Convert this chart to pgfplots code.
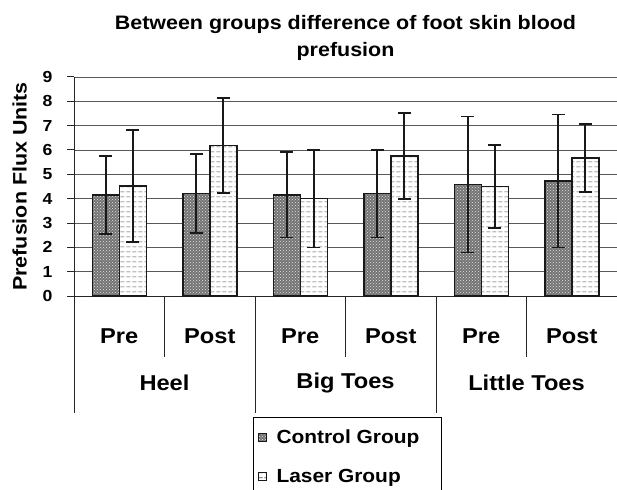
\documentclass[border=0pt]{standalone}
\usepackage{pgfplots}
\pgfplotsset{compat=1.18}
\usepackage{fontspec}
\setmainfont{Liberation Sans}[FakeStretch=1.1]
\usetikzlibrary{patterns,patterns.meta}
\pgfdeclarepatternformonly{wave}{\pgfpoint{0pt}{0pt}}{\pgfpoint{6pt}{5pt}}{\pgfpoint{6pt}{5pt}}{%
  \pgfsetlinewidth{0.75pt}%
  \pgfpathmoveto{\pgfpoint{0.5pt}{2.5pt}}%
  \pgfpathcurveto{\pgfpoint{1.8pt}{4.5pt}}{\pgfpoint{3.6pt}{0.5pt}}{\pgfpoint{5.1pt}{2.5pt}}%
  \pgfusepath{stroke}}
\begin{document}
\begin{tikzpicture}
\begin{axis}[
  at={(0,0)}, anchor=south west,
  scale only axis, width=543pt, height=219pt,
  xmin=0, xmax=6, ymin=0, ymax=9,
  axis x line*=bottom, axis y line*=left,
  axis line style={black!85, line width=1pt},
  ytick={0,...,9},
  ymajorgrids, grid style={black!65, line width=0.9pt},
  tick align=outside, major tick length=7pt,
  ytick style={black!85, line width=1pt},
  xtick={0.5,1.5,2.5,3.5,4.5,5.5},
  xticklabels={Pre,Post,Pre,Post,Pre,Post},
  xtick style={draw=none},
  xticklabel style={anchor=center, yshift=-33pt, font=\bfseries\fontsize{21.5}{21.5}\selectfont},
  yticklabel style={font=\bfseries\fontsize{16}{16}\selectfont, xshift=-11pt},
  /pgf/number format/assume math mode=true,
  ylabel={Prefusion Flux Units},
  ylabel style={font=\bfseries\fontsize{19.5}{19.5}\selectfont, yshift=9pt},
  title={Between groups difference of foot skin blood\\prefusion},
  title style={font=\bfseries\fontsize{19.5}{27}\selectfont, align=center, yshift=7pt},
  ybar, bar width=27pt,
  clip=false,
  legend style={at={(axis description cs:0.3297,-0.5525)}, anchor=north west,
    draw=black, line width=1pt, font=\bfseries\fontsize{19}{19}\selectfont,
    row sep=20pt, inner xsep=4pt, inner ysep=10pt, legend cell align=left,
    nodes={inner xsep=4pt}},
  legend image code/.code={\draw[#1, line width=0.5pt] (0pt,-4pt) rectangle (8pt,4pt); \node[inner sep=0pt, minimum size=0pt, draw=none, fill=none] at (14pt,0pt) {};},
]
\addplot[draw=black!90, line width=1.5pt, fill=black!55,
  postaction={pattern=crosshatch dots, pattern color=white!90!black},
  bar shift=-13.5pt,
  error bars/.cd, y dir=both, y explicit,
  error bar style={black!90, line width=1.6pt},
  error mark options={rotate=90, mark size=6.5pt, line width=1.6pt, black!90}]
coordinates {
(0.5,4.16) +- (0,1.60)
(1.5,4.22) +- (0,1.62)
(2.5,4.16) +- (0,1.75)
(3.5,4.21) +- (0,1.80)
(4.5,4.58) +- (0,2.80)
(5.5,4.73) +- (0,2.73)
};
\addlegendentry{Control Group\hspace*{14pt}}
\addplot[draw=black!90, line width=1.5pt, fill=white,
  postaction={pattern=wave, pattern color=black!70},
  bar shift=13.5pt,
  error bars/.cd, y dir=both, y explicit,
  error bar style={black!90, line width=1.6pt},
  error mark options={rotate=90, mark size=6.5pt, line width=1.6pt, black!90}]
coordinates {
(0.5,4.53) +- (0,2.30)
(1.5,6.19) +- (0,1.95)
(2.5,4.00) +- (0,2.00)
(3.5,5.76) +- (0,1.77)
(4.5,4.50) +- (0,1.70)
(5.5,5.68) +- (0,1.40)
};
\addlegendentry{Laser Group}
% category separators
\pgfplotsinvokeforeach{0,2,4,6}{\draw[black!85, line width=1pt] (axis cs:#1,0) -- ++(0,-117pt);}
\pgfplotsinvokeforeach{1,3,5}{\draw[black!85, line width=1pt] (axis cs:#1,0) -- ++(0,-61pt);}
\node[font=\bfseries\fontsize{21.5}{21.5}\selectfont] at ([yshift=-87pt]axis cs:1,0) {Heel};
\node[font=\bfseries\fontsize{21.5}{21.5}\selectfont] at ([yshift=-87pt]axis cs:3,0) {Big Toes};
\node[font=\bfseries\fontsize{21.5}{21.5}\selectfont] at ([yshift=-87pt]axis cs:5,0) {Little Toes};
\end{axis}
\pgfresetboundingbox
\path[use as bounding box] (-74pt,-193pt) rectangle (543pt,296pt);
\end{tikzpicture}
\end{document}
